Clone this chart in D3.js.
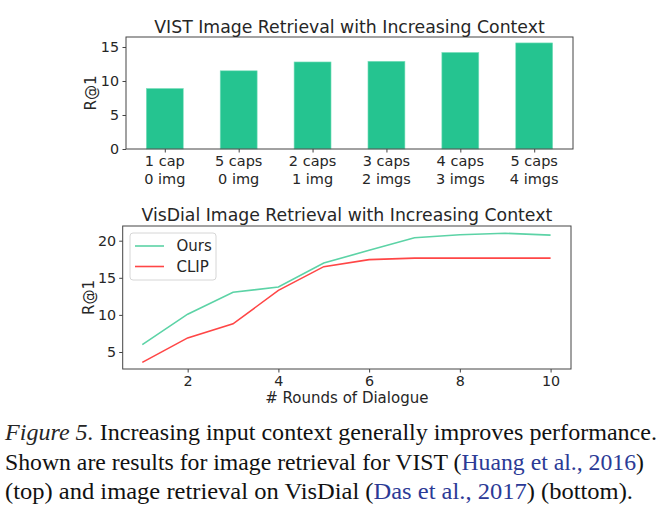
<!DOCTYPE html>
<html><head><meta charset="utf-8">
<script src="https://cdn.jsdelivr.net/npm/d3@7"></script>
<style>body{margin:0;background:#fff}svg{display:block}</style>
</head><body>
<script>
// ---- data ----
const barCats = [["1 cap","0 img"],["5 caps","0 img"],["2 caps","1 img"],["3 caps","2 imgs"],["4 caps","3 imgs"],["5 caps","4 imgs"]];
const barVals = [8.9, 11.5, 12.8, 12.9, 14.2, 15.6];
const barTicks = [0, 5, 10, 15];
const rounds = [1,2,3,4,5,6,7,8,9,10];
const oursVals = [6.0, 10.1, 13.05, 13.75, 17.0, 18.7, 20.4, 20.8, 21.0, 20.75];
const clipVals = [3.6, 6.9, 8.8, 13.3, 16.5, 17.45, 17.65, 17.65, 17.65, 17.65];
const lineYTicks = [5, 10, 15, 20];
const lineXTicks = [2, 4, 6, 8, 10];

const W = 660, H = 514;
const svg = d3.select("body").append("svg").attr("width", W).attr("height", H);
const txt = "#262626", spine = "#444";
const font = "DejaVu Sans, sans-serif";

// ---- top bar chart ----
{
  const L = 126, R = 573, T = 37, B = 149;
  const x = d3.scaleLinear().domain([-0.525, 5.525]).range([L, R]);
  const y = d3.scaleLinear().domain([0, 16.47]).range([B, T]);
  const g = svg.append("g");
  const bw = x(0.25) - x(-0.25);
  g.selectAll("rect.bar").data(barVals).join("rect").attr("class","bar")
    .attr("x", (d,i) => x(i) - bw/2).attr("width", bw)
    .attr("y", d => y(d)).attr("height", d => B - y(d))
    .attr("fill", "#25c490").attr("stroke", "#7fe0bd").attr("stroke-width", 0.6);
  g.append("rect").attr("x", L).attr("y", T).attr("width", R-L).attr("height", B-T)
    .attr("fill","none").attr("stroke", spine).attr("stroke-width", 1);
  const ya = g.append("g").attr("transform", `translate(${L},0)`)
    .call(d3.axisLeft(y).tickValues(barTicks).tickSize(3.5).tickPadding(3.5));
  const xa = g.append("g").attr("transform", `translate(0,${B})`)
    .call(d3.axisBottom(x).tickValues(d3.range(6)).tickSize(3.5).tickFormat(""));
  [ya, xa].forEach(a => { a.select(".domain").remove(); a.selectAll("line").attr("stroke", spine);
    a.selectAll("text").attr("font-family", font).attr("font-size", 14.3).attr("fill", txt); });
  barCats.forEach((c,i) => {
    const t = g.append("text").attr("text-anchor","middle").attr("font-family", font)
      .attr("font-size", 14.5).attr("fill", txt);
    t.append("tspan").attr("x", x(i)).attr("y", 166).text(c[0]);
    t.append("tspan").attr("x", x(i)).attr("y", 183.5).text(c[1]);
  });
  g.append("text").attr("transform", `translate(95.5,${(T+B)/2}) rotate(-90)`)
    .attr("text-anchor","middle").attr("font-family", font).attr("font-size", 15).attr("fill", txt).text("R@1");
  g.append("text").attr("x", (L+R)/2).attr("y", 32.5).attr("text-anchor","middle")
    .attr("font-family", font).attr("font-size", 17.3).attr("fill", txt)
    .text("VIST Image Retrieval with Increasing Context");
}

// ---- bottom line chart ----
{
  const L = 122.7, R = 571, T = 226, B = 369;
  const x = d3.scaleLinear().domain([0.568, 10.45]).range([L, R]);
  const y = d3.scaleLinear().domain([2.71, 21.98]).range([B, T]);
  const g = svg.append("g");
  const line = d3.line().x((d,i) => x(rounds[i])).y(d => y(d));
  g.append("path").datum(clipVals).attr("d", line).attr("fill","none")
    .attr("stroke", "#ff4646").attr("stroke-width", 1.6);
  g.append("path").datum(oursVals).attr("d", line).attr("fill","none")
    .attr("stroke", "#5cd3a6").attr("stroke-width", 1.6);
  g.append("rect").attr("x", L).attr("y", T).attr("width", R-L).attr("height", B-T)
    .attr("fill","none").attr("stroke", spine).attr("stroke-width", 1);
  const ya = g.append("g").attr("transform", `translate(${L},0)`)
    .call(d3.axisLeft(y).tickValues(lineYTicks).tickSize(3.5).tickPadding(3));
  const xa = g.append("g").attr("transform", `translate(0,${B})`)
    .call(d3.axisBottom(x).tickValues(lineXTicks).tickSize(3.5).tickPadding(3.5));
  [ya, xa].forEach(a => { a.select(".domain").remove(); a.selectAll("line").attr("stroke", spine);
    a.selectAll("text").attr("font-family", font).attr("font-size", 14.3).attr("fill", txt); });
  g.append("text").attr("transform", `translate(93.5,${(T+B)/2}) rotate(-90)`)
    .attr("text-anchor","middle").attr("font-family", font).attr("font-size", 15).attr("fill", txt).text("R@1");
  g.append("text").attr("x", (L+R)/2).attr("y", 403).attr("text-anchor","middle")
    .attr("font-family", font).attr("font-size", 15).attr("fill", txt).text("# Rounds of Dialogue");
  g.append("text").attr("x", (L+R)/2).attr("y", 221).attr("text-anchor","middle")
    .attr("font-family", font).attr("font-size", 17.3).attr("fill", txt)
    .text("VisDial Image Retrieval with Increasing Context");
  // legend
  const lg = g.append("g");
  lg.append("rect").attr("x", 130).attr("y", 233).attr("width", 86).attr("height", 47)
    .attr("rx", 3).attr("fill", "#fff").attr("fill-opacity", 0.8).attr("stroke", "#d6d6d6");
  [["Ours","#5cd3a6",246],["CLIP","#ff4646",266.5]].forEach(([n,c,yy]) => {
    lg.append("line").attr("x1",135).attr("x2",164).attr("y1",yy).attr("y2",yy)
      .attr("stroke", c).attr("stroke-width", 1.6);
    lg.append("text").attr("x", 176.5).attr("y", yy+5.3).attr("font-family", font)
      .attr("font-size", 15).attr("fill", txt).text(n);
  });
}

// ---- caption ----
{
  const serif = "Liberation Serif, Times New Roman, serif";
  const blue = "#2b3a96";
  const lines = [
    {y: 440, len: 652, parts: [["Figure 5.", txt, true], [" Increasing input context generally improves performance.", "#111"]]},
    {y: 470, len: 639, parts: [["Shown are results for image retrieval for VIST (", "#111"], ["Huang et al., 2016", blue], [")", "#111"]]},
    {y: 498.5, len: 628, parts: [["(top) and image retrieval on VisDial (", "#111"], ["Das et al., 2017", blue], [") (bottom).", "#111"]]}
  ];
  lines.forEach(l => {
    const t = svg.append("text").attr("x", 5).attr("y", l.y).attr("font-family", serif)
      .attr("font-size", 22.5).attr("textLength", l.len).attr("lengthAdjust", "spacingAndGlyphs")
      .attr("xml:space","preserve");
    l.parts.forEach(p => {
      const s = t.append("tspan").attr("fill", p[1]).text(p[0]);
      if (p[2]) s.attr("font-style", "italic");
    });
  });
}
</script>
</body></html>
